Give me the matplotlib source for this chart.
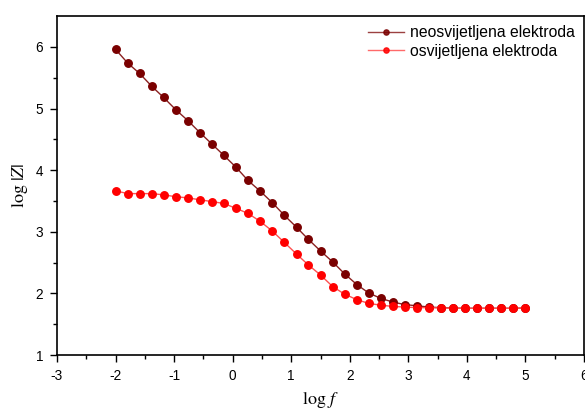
import numpy as np
import matplotlib
matplotlib.use('Agg')
import matplotlib.pyplot as plt

plt.rcParams['font.family'] = ['Liberation Sans', 'DejaVu Sans']
plt.rcParams['mathtext.fontset'] = 'stix'
plt.rcParams['axes.unicode_minus'] = False

# log f values (35 points from -2 to 5)
log_f = [-2.00, -1.79, -1.59, -1.38, -1.18, -0.97, -0.76, -0.56, -0.35, -0.15,
         0.06, 0.26, 0.47, 0.68, 0.88, 1.09, 1.29, 1.50, 1.71, 1.91,
         2.12, 2.32, 2.53, 2.74, 2.94, 3.15, 3.35, 3.56, 3.76, 3.97,
         4.18, 4.38, 4.59, 4.79, 5.00]

# neosvijetljena elektroda
logZ_dark = [5.96, 5.735, 5.57, 5.36, 5.18, 4.98, 4.80, 4.61, 4.42, 4.24,
             4.045, 3.835, 3.66, 3.47, 3.27, 3.075, 2.88, 2.69, 2.51, 2.32,
             2.145, 2.01, 1.92, 1.86, 1.82, 1.80, 1.78, 1.77, 1.765, 1.76,
             1.76, 1.76, 1.76, 1.76, 1.765]

# osvijetljena elektroda
logZ_light = [3.665, 3.62, 3.62, 3.62, 3.60, 3.57, 3.55, 3.52, 3.49, 3.46,
              3.38, 3.30, 3.17, 3.01, 2.83, 2.64, 2.465, 2.30, 2.11, 1.99,
              1.90, 1.84, 1.81, 1.79, 1.78, 1.77, 1.77, 1.765, 1.76, 1.76,
              1.76, 1.76, 1.76, 1.76, 1.765]

fig = plt.figure(figsize=(5.85, 4.12), dpi=100)
ax = fig.add_axes([0.0974, 0.138, 0.901, 0.823])

ax.plot(log_f, logZ_dark, '-', color='#8b2020', lw=1.0, marker='o', ms=5.4,
        mfc='#7a0000', mec='#7a0000', label='neosvijetljena elektroda')
ax.plot(log_f, logZ_light, '-', color='#ff5050', lw=1.0, marker='o', ms=5.4,
        mfc='#ff0000', mec='#ff0000', label='osvijetljena elektroda')

ax.set_xlim(-3, 6)
ax.set_ylim(1, 6.5)
ax.set_xticks(np.arange(-3, 7, 1))
ax.set_yticks(np.arange(1, 7, 1))
ax.set_xticks(np.arange(-2.5, 6, 1), minor=True)
ax.set_yticks(np.arange(1.5, 6.5, 1), minor=True)
for s in ax.spines.values():
    s.set_linewidth(1.2)
ax.tick_params(which='both', direction='out', labelsize=9.8, top=False, right=False)
ax.tick_params(which='major', length=5, width=1.0, pad=5)
ax.tick_params(which='minor', length=3, width=1.0)

ax.set_xlabel(r'$\log\, f$', fontsize=13, labelpad=5)
ax.set_ylabel(r'$\log\,|Z|$', fontsize=13, labelpad=4)

leg = ax.legend(loc='upper right', frameon=False, fontsize=11.3, markerscale=0.7,
                handlelength=2.3, borderaxespad=0.3, labelspacing=0.2,
                handletextpad=0.35, borderpad=0.3)
for h in leg.legend_handles:
    h.set_alpha(0.85)

fig.savefig('out.png', dpi=100)
